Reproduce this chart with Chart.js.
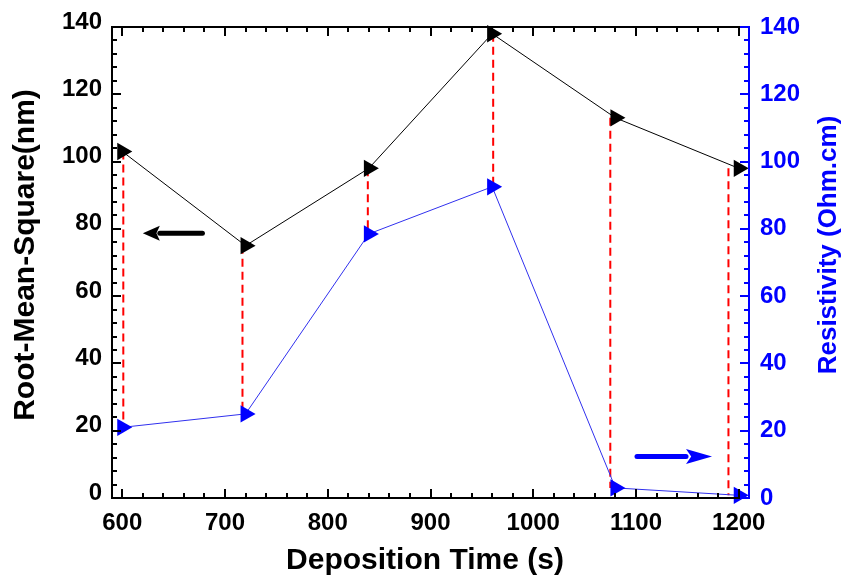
<!DOCTYPE html>
<html>
<head>
<meta charset="utf-8">
<script src="https://cdn.jsdelivr.net/npm/chart.js@4.4.0/dist/chart.umd.min.js"></script>
<style>
    body { margin: 0; background: #fff; }
    #wrap { width: 842px; height: 577px; }
</style>
</head>
<body>
<div id="wrap"><canvas id="chart"></canvas></div>
<script>
// Values
var depositionTime = [600, 720, 840, 960, 1080, 1200];
var rmsValues = [103, 75, 98, 138, 113, 98];
var resistivityValues = [21, 25, 78.5, 92.5, 3, 0.8];
// where the red dashed guides sit
var guideTime = [601, 717, 839, 961, 1075, 1190];
var xTickValues = [600, 700, 800, 900, 1000, 1100, 1200];
var yTickValues = [0, 20, 40, 60, 80, 100, 120, 140];
// arrows: [from x, to x, y]
var rmsArrow = [678, 620, 78.7];
var resArrow = [1101, 1174, 12.3];

var BLUE = '#0000ff';
var FONT = 'Liberation Sans, Arial, sans-serif';

function pts(xs, ys) {
    return xs.map(function (x, i) { return { x: x, y: ys[i] }; });
}

var datasets = [
    {
        label: 'RMS',
        data: pts(depositionTime, rmsValues),
        yAxisID: 'y',
        borderColor: '#000',
        borderWidth: 1,
        backgroundColor: '#000',
        pointStyle: 'triangle',
        rotation: 90,
        pointRadius: 10,
        pointBorderWidth: 0,
        clip: false,
    },
    {
        label: 'Resistivity',
        data: pts(depositionTime, resistivityValues),
        yAxisID: 'y1',
        borderColor: '#3030ee',
        borderWidth: 1,
        backgroundColor: BLUE,
        pointStyle: 'triangle',
        rotation: 90,
        pointRadius: 10,
        pointBorderWidth: 0,
        clip: false,
    },
];

// red dashed guides from each RMS point down to the resistivity point
guideTime.forEach(function (t, i) {
    datasets.push({
        data: [{ x: t, y: rmsValues[i] }, { x: t, y: resistivityValues[i] }],
        yAxisID: 'y',
        borderColor: '#ff0000',
        borderWidth: 2,
        borderDash: [8, 5],
        pointRadius: 0,
    });
});

function drawArrow(ctx, x0, x1, y, color, headLen, headH) {
    var dir = x1 > x0 ? 1 : -1;
    ctx.strokeStyle = color;
    ctx.fillStyle = color;
    ctx.lineWidth = 5;
    ctx.lineCap = 'round';
    ctx.beginPath();
    ctx.moveTo(x0, y);
    ctx.lineTo(x1 - dir * headLen, y);
    ctx.stroke();
    ctx.beginPath();
    ctx.moveTo(x1, y);
    ctx.lineTo(x1 - dir * headLen, y - headH / 2);
    ctx.lineTo(x1 - dir * headLen * 0.8, y);
    ctx.lineTo(x1 - dir * headLen, y + headH / 2);
    ctx.closePath();
    ctx.fill();
}

function vText(ctx, text, x, y, font, color) {
    ctx.save();
    ctx.translate(x, y);
    ctx.rotate(-Math.PI / 2);
    ctx.font = font;
    ctx.fillStyle = color;
    ctx.textAlign = 'center';
    ctx.textBaseline = 'middle';
    ctx.fillText(text, 0, 0);
    ctx.restore();
}

var frameTicks = {
    id: 'frameTicks',
    afterDatasetsDraw: function (chart) {
        var ctx = chart.ctx, a = chart.chartArea;
        var sx = chart.scales.x, sy = chart.scales.y, sy1 = chart.scales.y1;
        ctx.save();
        ctx.lineWidth = 2;
        ctx.strokeStyle = '#000';
        ctx.beginPath();
        ctx.moveTo(a.right, a.top);
        ctx.lineTo(a.left, a.top);
        ctx.lineTo(a.left, a.bottom);
        ctx.lineTo(a.right, a.bottom);
        var v, p, len;
        for (v = 600; v <= 1200; v += 20) {
            p = Math.round(sx.getPixelForValue(v));
            len = v % 100 === 0 ? 9 : 5;
            ctx.moveTo(p, a.bottom); ctx.lineTo(p, a.bottom - len);
            ctx.moveTo(p, a.top); ctx.lineTo(p, a.top + len);
        }
        for (v = 0; v <= 140; v += 4) {
            p = Math.round(sy.getPixelForValue(v));
            len = v % 20 === 0 ? 9 : 5;
            ctx.moveTo(a.left, p); ctx.lineTo(a.left + len, p);
        }
        ctx.stroke();

        ctx.strokeStyle = BLUE;
        ctx.beginPath();
        ctx.moveTo(a.right, a.top - 1);
        ctx.lineTo(a.right, a.bottom + 1);
        for (v = 0; v <= 140; v += 4) {
            p = Math.round(sy1.getPixelForValue(v));
            len = v % 20 === 0 ? 9 : 5;
            ctx.moveTo(a.right, p); ctx.lineTo(a.right - len, p);
        }
        ctx.stroke();

        drawArrow(ctx, sx.getPixelForValue(rmsArrow[0]), sx.getPixelForValue(rmsArrow[1]),
            sy.getPixelForValue(rmsArrow[2]), '#000', 17, 15);
        drawArrow(ctx, sx.getPixelForValue(resArrow[0]), sx.getPixelForValue(resArrow[1]),
            sy1.getPixelForValue(resArrow[2]), BLUE, 26, 15);

        // axis titles
        ctx.font = 'bold 30px ' + FONT;
        ctx.fillStyle = '#000';
        ctx.textAlign = 'center';
        ctx.textBaseline = 'middle';
        ctx.fillText('Deposition Time (s)', 425, 561);
        vText(ctx, 'Root-Mean-Square(nm)', 26, 255, 'bold 30px ' + FONT, '#000');
        vText(ctx, 'Resistivity (Ohm.cm)', 829, 245, 'bold 26px ' + FONT, BLUE);
        ctx.restore();
    },
};

var tickFont = { family: FONT, size: 24, weight: 'bold' };

var ctx = document.getElementById('chart').getContext('2d');
var chart = new Chart(ctx, {
    type: 'line',
    data: { datasets: datasets },
    options: {
        responsive: true,
        maintainAspectRatio: false,
        animation: false,
        layout: { padding: { top: 27, left: 0, right: 0, bottom: 0 } },
        plugins: { legend: { display: false }, tooltip: { enabled: false } },
        scales: {
            x: {
                type: 'linear',
                min: 590,
                max: 1210,
                afterBuildTicks: function (s) { s.ticks = xTickValues.map(function (v) { return { value: v }; }); },
                afterFit: function (s) { s.height = 79; },
                grid: { display: false, drawTicks: false },
                border: { display: false },
                ticks: {
                    color: '#000', padding: 11, maxRotation: 0, font: tickFont,
                    callback: function (v) { return String(v); },
                },
            },
            y: {
                position: 'left',
                min: 0,
                max: 140,
                afterBuildTicks: function (s) { s.ticks = yTickValues.map(function (v) { return { value: v }; }); },
                afterFit: function (s) { s.width = 112; },
                grid: { display: false, drawTicks: false },
                border: { display: false },
                ticks: { color: '#000', padding: 10, labelOffset: -5, font: tickFont },
            },
            y1: {
                position: 'right',
                min: 0,
                max: 140,
                afterBuildTicks: function (s) { s.ticks = yTickValues.map(function (v) { return { value: v }; }); },
                afterFit: function (s) { s.width = 93; },
                grid: { display: false, drawTicks: false },
                border: { display: false },
                ticks: { color: BLUE, padding: 11, font: tickFont },
            },
        },
    },
    plugins: [frameTicks],
});
</script>
</body>
</html>
